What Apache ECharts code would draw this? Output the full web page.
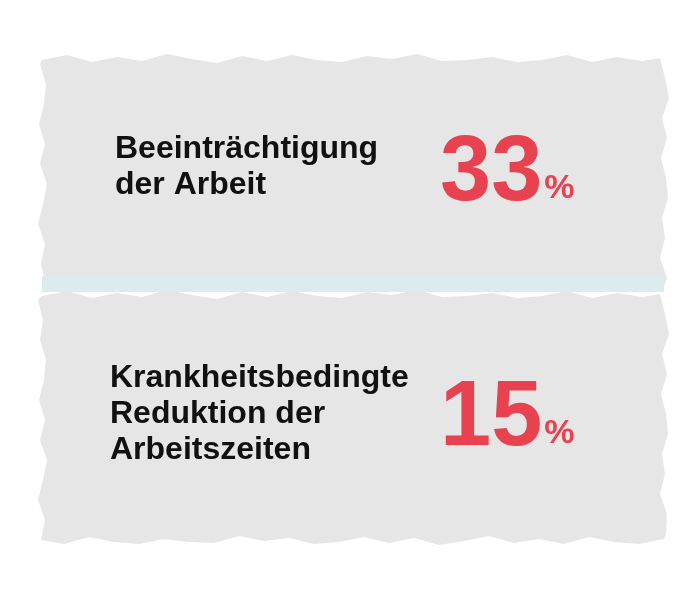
<!DOCTYPE html><html><head><meta charset="utf-8"><script src="https://cdn.jsdelivr.net/npm/echarts@6/dist/echarts.min.js"></script>
<style>html,body{margin:0;background:#fff}#c{width:700px;height:589px}</style></head><body><div id="c"></div><script>
const labels=[["Beeinträchtigung","der Arbeit"],["Krankheitsbedingte","Reduktion der","Arbeitszeiten"]];
const values=[33,15];
const chart=echarts.init(document.getElementById('c'));
const font='"Liberation Sans", Arial, sans-serif';
const ctx=document.createElement('canvas').getContext('2d');
function rough(x0,y0,x1,y1){const p=[];const j=[2,-3,4,-1,3,-4,1,5,-2,3,-3,2,4,-2,1,-4,3,2,-1,4];let k=0;
for(let x=x0;x<=x1;x+=25)p.push([x,y0+j[k++%20]]);
for(let y=y0;y<=y1;y+=20)p.push([x1+j[k++%20],y]);
for(let x=x1;x>=x0;x-=25)p.push([x,y1+j[k++%20]]);
for(let y=y1;y>=y0;y-=20)p.push([x0+j[k++%20],y]);return p;}
const g=[
{type:'polygon',shape:{points:rough(42,58,664,284)},style:{fill:'#e6e6e6'}},
{type:'rect',shape:{x:42,y:276,width:622,height:16},style:{fill:'#dcebec'}},
{type:'polygon',shape:{points:rough(42,294,664,540)},style:{fill:'#e6e6e6'}}];
const tops=[[115,149],[110,378]];
const numPos=[[440,175],[440,420]];
const numFont='bold 92px '+font;
labels.forEach((ls,i)=>{ls.forEach((t,j)=>g.push({type:'text',x:tops[i][0],y:tops[i][1]+j*36,style:{text:t,font:'bold 32px '+font,fill:'#111',verticalAlign:'middle'}}));
const s=String(values[i]);
ctx.font=numFont;const w=ctx.measureText(s).width;
g.push({type:'text',x:numPos[i][0],y:numPos[i][1],style:{text:s,font:numFont,fill:'#e8414f',verticalAlign:'middle'}});
g.push({type:'text',x:numPos[i][0]+w+2,y:numPos[i][1]+14,style:{text:'%',font:'bold 34px '+font,fill:'#e8414f',verticalAlign:'middle'}});});
chart.setOption({graphic:g});
</script></body></html>
